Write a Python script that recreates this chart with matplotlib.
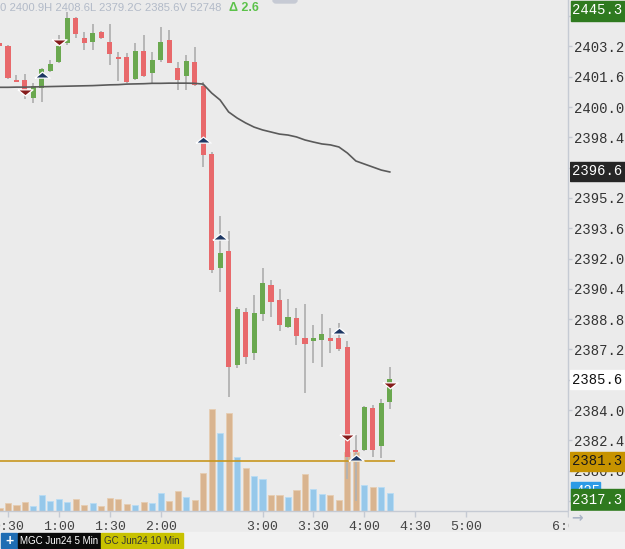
import matplotlib.pyplot as plt
import numpy as np
from matplotlib.patches import Rectangle, FancyBboxPatch

# ---- data (MGC 5 min bars, 0:25 .. 4:15) ----
opens = [2403.4, 2403.2, 2401.4, 2401.4, 2400.5, 2401.0, 2401.9, 2402.37, 2403.38, 2404.7,
         2403.64, 2403.43, 2403.96, 2403.43, 2402.64, 2402.64, 2401.48, 2402.95, 2401.8, 2402.48,
         2403.54, 2402.06, 2401.64, 2402.37, 2401.1, 2397.5, 2391.5, 2392.4, 2386.38, 2389.17,
         2387.0, 2389.07, 2390.6, 2389.8, 2388.38, 2388.86, 2387.8, 2387.65, 2387.7, 2387.8,
         2387.8, 2387.33, 2381.9, 2381.9, 2384.1, 2382.1, 2384.42]
highs = [2403.5, 2403.25, 2401.7, 2401.75, 2401.25, 2402.05, 2402.5, 2403.8, 2405.0, 2404.75,
         2403.96, 2404.4, 2404.0, 2404.4, 2402.9, 2402.85, 2403.38, 2403.8, 2402.9, 2404.2,
         2404.06, 2402.37, 2402.75, 2403.17, 2401.3, 2397.6, 2394.24, 2393.45, 2389.44, 2389.4,
         2390.07, 2391.5, 2390.86, 2390.4, 2389.86, 2389.4, 2389.6, 2388.5, 2389.07, 2388.33,
         2388.6, 2387.65, 2382.7, 2384.2, 2384.27, 2384.6, 2386.27]
lows = [2403.1, 2401.5, 2401.3, 2400.4, 2400.2, 2400.27, 2401.85, 2402.3, 2403.3, 2403.64,
        2403.0, 2403.0, 2403.6, 2402.2, 2401.37, 2401.27, 2401.4, 2401.6, 2401.27, 2402.4,
        2402.3, 2400.9, 2400.9, 2401.1, 2396.83, 2391.24, 2390.23, 2384.69, 2386.2, 2386.43,
        2386.64, 2388.7, 2388.9, 2388.17, 2388.33, 2387.43, 2384.9, 2386.5, 2386.27, 2387.0,
        2387.1, 2380.36, 2379.2, 2381.85, 2381.5, 2381.47, 2384.05]
closes = [2403.2, 2401.55, 2401.3, 2400.9, 2401.1, 2402.0, 2402.27, 2403.2, 2404.7, 2403.85,
          2403.38, 2403.9, 2403.64, 2402.8, 2402.53, 2401.3, 2402.95, 2401.64, 2402.48, 2403.43,
          2402.32, 2401.43, 2402.43, 2401.16, 2397.47, 2391.39, 2392.3, 2386.27, 2389.33, 2386.8,
          2389.1, 2390.7, 2389.7, 2388.5, 2388.9, 2387.9, 2387.49, 2387.8, 2388.0, 2387.65,
          2387.2, 2381.52, 2381.78, 2384.16, 2381.9, 2384.37, 2385.64]
volumes = [58, 173, 127, 196, 104, 357, 219, 265, 196, 265,
           127, 173, 104, 288, 265, 150, 127, 196, 173, 403,
           219, 449, 311, 242, 863, 2335, 1783, 2243, 1231, 978,
           794, 725, 357, 357, 311, 472, 840, 495, 380, 357,
           242, 1346, 1346, 587, 541, 541, 425]
ma = [2401.04, 2401.04, 2401.05, 2401.05, 2401.06, 2401.07, 2401.08, 2401.09, 2401.10, 2401.11,
      2401.12, 2401.13, 2401.15, 2401.17, 2401.18, 2401.21, 2401.22, 2401.23, 2401.25, 2401.25,
      2401.26, 2401.26, 2401.26, 2401.25, 2401.21, 2400.74, 2400.37, 2399.74, 2399.42, 2399.16,
      2398.94, 2398.79, 2398.68, 2398.57, 2398.52, 2398.42, 2398.26, 2398.15, 2398.05, 2398.0,
      2397.89, 2397.57, 2397.15, 2396.99, 2396.83, 2396.67, 2396.57]
bar_minutes = np.arange(25, 256, 5)  # minutes after 0:00

up_bars = [6, 25, 27, 41, 43]
up_prices = [2401.69, 2398.26, 2393.14, 2388.17, 2381.47]
down_bars = [4, 8, 42, 47]
down_prices = [2400.79, 2403.43, 2382.58, 2385.32]

level_price = 2381.3
price_ticks = [2404.8, 2403.2, 2401.6, 2400.0, 2398.4, 2396.8, 2395.2, 2393.6, 2392.0,
               2390.4, 2388.8, 2387.2, 2385.6, 2384.0, 2382.4, 2380.8, 2379.2]
time_ticks = [30, 60, 90, 120, 180, 210, 240, 270, 300, 360]
time_labels = ["0:30", "1:00", "1:30", "2:00", "3:00", "3:30", "4:00", "4:30", "5:00", "6:00"]

header = "0 2400.9H 2408.6L 2379.2C 2385.6V 52748"
change = "\u0394 2.6"

W, H = 625, 549
bg = "#ebebeb"
red, green = "#e8696b", "#6aa84f"
tan, blue = "#d9b48f", "#96c8ea"
axis_col = "#c5cad3"
mono = "Liberation Mono"


def fx(px):
    return px / W


def fy(py):
    return 1 - py / H


fig = plt.figure(figsize=(6.25, 5.49), dpi=100, facecolor=bg)
rect = [0, fy(511), fx(568), 511 / H]

# volume panel behind the candles
axv = fig.add_axes(rect, zorder=0, facecolor=bg)
ax = fig.add_axes(rect, zorder=1, sharex=axv)
ax.patch.set_visible(False)

o = np.array(opens)
c = np.array(closes)
is_up = c >= o

axv.bar(bar_minutes, volumes, width=3.6, color=np.where(is_up, blue, tan),
        edgecolor=np.where(is_up, "#b8dcf4", "#e6cdb2"), linewidth=0.6)
axv.set_ylim(0, 511 * 23)
axv.axis("off")

ax.vlines(bar_minutes, lows, highs, color="#b2b2b2", lw=1.3, zorder=2)
ax.bar(bar_minutes, np.abs(c - o), bottom=np.minimum(o, c), width=3.0,
       color=np.where(is_up, green, red), zorder=3)
ax.plot(bar_minutes, ma, color="#5a5a5a", lw=1.2, zorder=4)

xmin, xmax = 25.3, 359.4
ax.hlines(level_price, xmin, bar_minutes[-1] + 3, color="#c8961e", lw=1.2, zorder=4)

tri_up = [(-1, -0.35), (1, -0.35), (0, 0.45), (-1, -0.35)]
tri_dn = [(-1, 0.35), (1, 0.35), (0, -0.45), (-1, 0.35)]
ax.scatter(bar_minutes[np.array(up_bars) - 1], up_prices, marker=tri_up, s=120,
           color="#1d3763", edgecolors="white", linewidths=0.9, zorder=6)
ax.scatter(bar_minutes[np.array(down_bars) - 1], down_prices, marker=tri_dn, s=120,
           color="#861c1c", edgecolors="white", linewidths=0.9, zorder=6)

ax.set_xlim(xmin, xmax)
ax.set_ylim(2378.67, 2405.65)

for s in ("top", "left"):
    ax.spines[s].set_visible(False)
for s in ("bottom", "right"):
    ax.spines[s].set_color(axis_col)
    ax.spines[s].set_linewidth(1)

ax.yaxis.tick_right()
ax.set_yticks(price_ticks)
ax.set_yticklabels([f"{v:.1f}" for v in price_ticks])
ax.tick_params(axis="y", length=3, width=1, color=axis_col, pad=1,
               labelsize=10, labelcolor="#333333")
ax.set_xticks(time_ticks)
ax.set_xticklabels(time_labels)
ax.tick_params(axis="x", length=4, width=1, color=axis_col, pad=3,
               labelsize=9.5, labelcolor="#444444")
for lbl in ax.get_yticklabels() + ax.get_xticklabels():
    lbl.set_fontfamily(mono)

# price flags on the right scale
axr = fig.add_axes([fx(570), fy(511), fx(55), 511 / H], zorder=5)
axr.set_ylim(ax.get_ylim())
axr.set_xlim(0, 1)
axr.axis("off")
flags = [(2396.6, "#262626", "white"), (2385.6, "#ffffff", "#111111"), (2381.3, "#c79300", "#1a1a1a")]
for price, fc, tc in flags:
    axr.add_patch(Rectangle((0, price - 0.5), 1, 1.0, color=fc, zorder=2))
    axr.text(0.04, price, f"{price:.1f}", color=tc, fontsize=10, family=mono,
             va="center", ha="left", zorder=3)

pinned = [(0.5, 20, "2445.3", "#2f7a1f"), (482, 18, "425", "#2d9be6"), (489, 22, "2317.3", "#2f7a1f")]
for top, hgt, txt, fc in pinned:
    y0 = 1 - (top + hgt) / 511
    w = 0.55 if txt == "425" else 1.0
    axr.add_patch(Rectangle((0.02, y0), w - 0.02, hgt / 511, color=fc,
                            transform=axr.transAxes, zorder=4 if txt != "425" else 3))
    axr.text(0.04 if w == 1 else 0.1, y0 + hgt / 2 / 511, txt, color="white", fontsize=10,
             family=mono, va="center", ha="left", transform=axr.transAxes,
             zorder=5 if txt != "425" else 3.5)

# corner under the price scale hides the clipped time label
fig.add_artist(Rectangle((fx(568.5), fy(532)), fx(57), 21 / H, transform=fig.transFigure,
                         color=bg, zorder=10))
fig.text(fx(571), fy(518), "\u2192", fontsize=10, fontweight="bold", color="#aab4c6",
         va="center", ha="left", zorder=11)

# header line and top tab
fig.text(fx(0), fy(8), header, fontsize=8.1, family="Liberation Sans", color="#b2bac8",
         va="center", ha="left", zorder=11)
fig.text(fx(229), fy(8), change, fontsize=9, family="Liberation Sans", fontweight="bold",
         color="#5cc24a", va="center", ha="left", zorder=11)
fig.add_artist(FancyBboxPatch((fx(273), fy(3)), fx(24), 6 / H,
                              boxstyle="round,pad=0.0,rounding_size=0.005",
                              transform=fig.transFigure, color="#c6cad4", zorder=11))

# bottom legend strip
fig.add_artist(Rectangle((0, 0), 1, 17 / H, transform=fig.transFigure, color="#f2f2f2", zorder=10))
legend_boxes = [(1, 16, "+", "#1f6db3", "white"),
                (18, 82, "MGC Jun24 5 Min", "#0a0a0a", "white"),
                (101, 82, "GC Jun24 10 Min", "#c8c200", "#333333")]
for x0, w, txt, fc, tc in legend_boxes:
    fig.add_artist(Rectangle((fx(x0), fy(548)), fx(w), 15 / H, transform=fig.transFigure,
                             color=fc, zorder=11))
    fig.text(fx(x0 + w / 2), fy(540.5), txt, fontsize=7 if txt != "+" else 10,
             fontweight="bold" if txt == "+" else "normal", family="Liberation Sans",
             color=tc, va="center", ha="center", zorder=12)

fig.savefig("out.png", dpi=100, facecolor=bg)
